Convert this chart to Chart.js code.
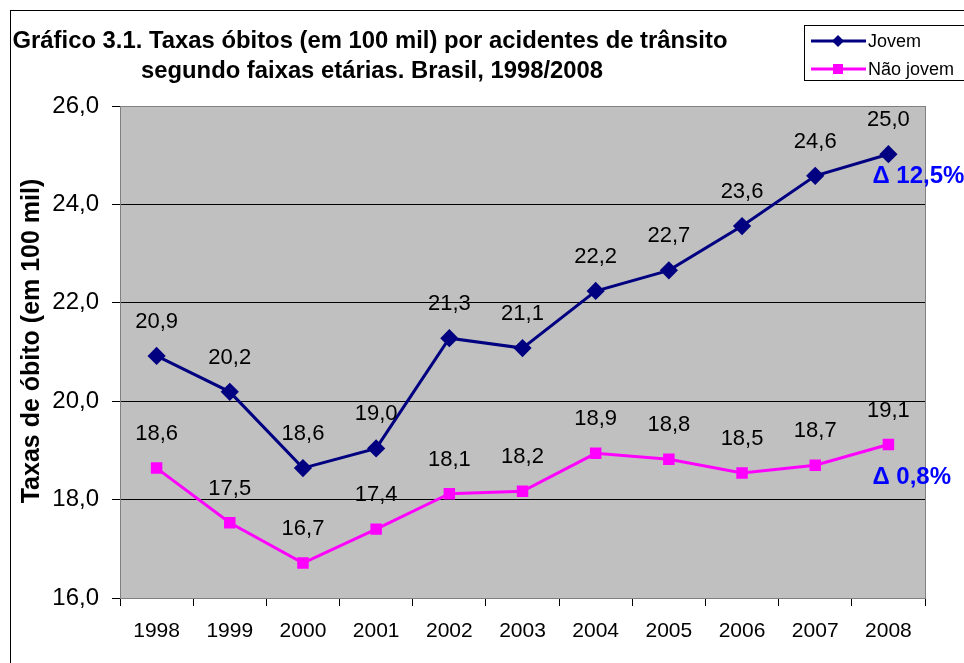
<!DOCTYPE html>
<html>
<head>
<meta charset="utf-8">
<script src="https://cdn.jsdelivr.net/npm/chart.js@4.4.0/dist/chart.umd.min.js"></script>
<style>
  body { margin: 0; background: #fff; }
  #wrap { width: 964px; height: 663px; }
</style>
</head>
<body>
<div id="wrap"><canvas id="chart" width="964" height="663"></canvas></div>
<script>
const years = ["1998", "1999", "2000", "2001", "2002", "2003", "2004", "2005", "2006", "2007", "2008"];
const jovem = [20.92, 20.19, 18.64, 19.04, 21.28, 21.08, 22.24, 22.66, 23.56, 24.58, 25.02];
const naoJovem = [18.64, 17.53, 16.71, 17.40, 18.12, 18.17, 18.94, 18.82, 18.54, 18.70, 19.12];
const seriesNames = ["Jovem", "Não jovem"];
const deltaLabels = ["Δ 12,5%", "Δ 0,8%"];
const titleLines = [
  "Gráfico 3.1. Taxas óbitos (em 100 mil) por acidentes de trânsito",
  "segundo faixas etárias. Brasil, 1998/2008"
];
const yTitle = "Taxas de óbito (em 100 mil)";

const FONT = "'Liberation Sans', Arial, sans-serif";
const fmt = (v) => v.toFixed(1).replace(".", ",");

// draw centred text, squeezed horizontally if wider than maxW
function fitText(ctx, text, x, y, maxW) {
  const w = ctx.measureText(text).width;
  const k = w > maxW ? maxW / w : 1;
  ctx.save();
  ctx.translate(x, y);
  ctx.scale(k, 1);
  ctx.fillText(text, 0, 0);
  ctx.restore();
}

// background, borders, title, labels and legend
const decor = {
  id: "decor",
  beforeDraw(chart) {
    const { ctx, chartArea: a } = chart;
    ctx.save();
    ctx.fillStyle = "#fff";
    ctx.fillRect(0, 0, chart.width, chart.height);
    ctx.fillStyle = "#c0c0c0";
    ctx.fillRect(a.left, a.top, a.right - a.left, a.bottom - a.top);
    ctx.restore();
  },
  afterDatasetsDraw(chart) {
    const { ctx, chartArea: a } = chart;
    ctx.save();
    // plot border
    ctx.strokeStyle = "#808080";
    ctx.lineWidth = 1;
    ctx.strokeRect(a.left + 0.5, a.top + 0.5, a.right - a.left, a.bottom - a.top);

    // value labels
    ctx.fillStyle = "#000";
    ctx.font = "22px " + FONT;
    ctx.textAlign = "center";
    ctx.textBaseline = "middle";
    chart.data.datasets.forEach((ds, di) => {
      chart.getDatasetMeta(di).data.forEach((pt, i) => {
        ctx.fillText(fmt(ds.data[i]), pt.x, pt.y - 34);
      });
    });

    // delta labels next to last point
    ctx.fillStyle = "#0000ff";
    ctx.font = "bold 24px " + FONT;
    ctx.textAlign = "left";
    const offs = [[-16, 22], [-16, 33]];
    deltaLabels.forEach((t, di) => {
      const pts = chart.getDatasetMeta(di).data;
      const last = pts[pts.length - 1];
      ctx.fillText(t, last.x + offs[di][0], last.y + offs[di][1]);
    });
    ctx.restore();
  },
  afterDraw(chart) {
    const { ctx } = chart;
    ctx.save();
    // outer chart frame
    ctx.strokeStyle = "#000";
    ctx.lineWidth = 1;
    ctx.strokeRect(10.5, 10.5, chart.width, chart.height);

    // title
    ctx.fillStyle = "#000";
    ctx.font = "bold 24px " + FONT;
    ctx.textAlign = "center";
    ctx.textBaseline = "middle";
    fitText(ctx, titleLines[0], 370, 41, 715);
    fitText(ctx, titleLines[1], 372, 71, 462);

    // y axis title
    ctx.save();
    ctx.font = "bold 25px " + FONT;
    ctx.translate(32, 341);
    ctx.rotate(-Math.PI / 2);
    fitText(ctx, yTitle, 0, 0, 328);
    ctx.restore();

    // legend
    ctx.fillStyle = "#fff";
    ctx.fillRect(804.5, 25.5, 160, 55);
    ctx.strokeStyle = "#000";
    ctx.strokeRect(804.5, 25.5, 160, 55);
    ctx.font = "18px " + FONT;
    ctx.textAlign = "left";
    const rows = [41, 69];
    chart.data.datasets.forEach((ds, di) => {
      const y = rows[di];
      ctx.strokeStyle = ds.borderColor;
      ctx.lineWidth = 3;
      ctx.beginPath();
      ctx.moveTo(811, y);
      ctx.lineTo(866, y);
      ctx.stroke();
      ctx.fillStyle = ds.borderColor;
      ctx.beginPath();
      if (ds.pointStyle === "rectRot") {
        ctx.moveTo(838, y - 6); ctx.lineTo(844, y); ctx.lineTo(838, y + 6); ctx.lineTo(832, y);
      } else {
        ctx.rect(833, y - 5, 10, 10);
      }
      ctx.closePath();
      ctx.fill();
      ctx.fillStyle = "#000";
      ctx.fillText(seriesNames[di], 868, y + 1);
    });
    ctx.restore();
  }
};

new Chart(document.getElementById("chart"), {
  type: "line",
  data: {
    labels: years,
    datasets: [
      {
        label: seriesNames[0],
        data: jovem,
        borderColor: "#000080",
        backgroundColor: "#000080",
        borderWidth: 3,
        pointStyle: "rectRot",
        pointRadius: 7,
        pointHoverRadius: 7,
        tension: 0,
      },
      {
        label: seriesNames[1],
        data: naoJovem,
        borderColor: "#ff00ff",
        backgroundColor: "#ff00ff",
        borderWidth: 3,
        pointStyle: "rect",
        pointRadius: 6,
        pointHoverRadius: 6,
        tension: 0,
      },
    ],
  },
  options: {
    responsive: false,
    devicePixelRatio: 1,
    animation: false,
    layout: { padding: { left: 0, top: 106, right: 39, bottom: 0 } },
    plugins: {
      legend: { display: false },
      tooltip: { enabled: false },
    },
    scales: {
      x: {
        offset: true,
        afterFit: (s) => { s.height = 65; },
        grid: {
          offset: true,
          drawOnChartArea: false,
          drawTicks: true,
          tickLength: 8,
          color: "#000",
        },
        border: { color: "#404040", width: 1 },
        ticks: {
          color: "#000",
          font: { family: FONT, size: 21 },
          padding: 13,
          maxRotation: 0,
        },
      },
      y: {
        min: 16,
        max: 26,
        afterFit: (s) => { s.width = 120; },
        grid: {
          color: "#000",
          tickLength: 8,
        },
        border: { color: "#404040", width: 1 },
        ticks: {
          stepSize: 2,
          color: "#000",
          font: { family: FONT, size: 24 },
          padding: 13,
          callback: (v) => fmt(v),
        },
      },
    },
  },
  plugins: [decor],
});
</script>
</body>
</html>
